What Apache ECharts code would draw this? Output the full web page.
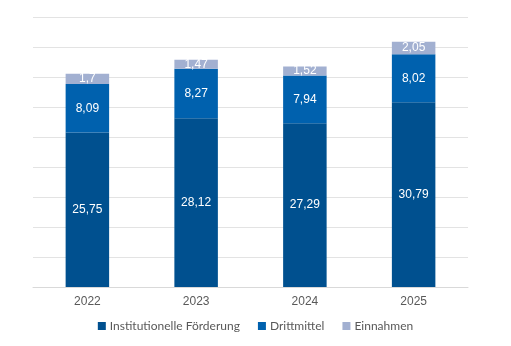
<!DOCTYPE html>
<html>
<head>
<meta charset="utf-8">
<script src="https://cdn.jsdelivr.net/npm/echarts@6/dist/echarts.min.js"></script>
<style>
  html, body { margin: 0; padding: 0; background: #fff; }
  #chart { width: 511px; height: 346px; }
</style>
</head>
<body>
<div id="chart"></div>
<script>
// Jahre und Finanzierungsanteile (Mio. €)
const years = ['2022', '2023', '2024', '2025'];
const institutionell = [25.75, 28.12, 27.29, 30.79];
const drittmittel = [8.09, 8.27, 7.94, 8.02];
const einnahmen = [1.7, 1.47, 1.52, 2.05];

const colors = ['#00508f', '#0061ae', '#a2b0d1'];
const fmt = p => String(p.value).replace('.', ',');

function seg(name, data, color) {
  return {
    name: name,
    type: 'bar',
    stack: 'gesamt',
    barWidth: '40%',
    data: data,
    itemStyle: { color: color },
    label: {
      show: true,
      position: 'inside',
      color: '#ffffff',
      fontFamily: 'Liberation Sans, Arial, sans-serif',
      fontSize: 12,
      formatter: fmt
    }
  };
}

const chart = echarts.init(document.getElementById('chart'), null, { renderer: 'canvas' });
chart.setOption({
  animation: false,
  color: colors,
  grid: { left: 33, right: 43, top: 17, bottom: 59 },
  xAxis: {
    type: 'category',
    data: years,
    axisLine: { lineStyle: { color: '#d9d9d9' } },
    axisTick: { show: false },
    axisLabel: { color: '#595959', fontSize: 12, fontFamily: 'Liberation Sans, Arial, sans-serif', margin: 9 }
  },
  yAxis: {
    type: 'value',
    min: 0,
    max: 45,
    interval: 5,
    axisLabel: { show: false },
    axisLine: { show: false },
    axisTick: { show: false },
    splitLine: { lineStyle: { color: '#e3e3e3', width: 1 } }
  },
  legend: {
    bottom: 9,
    left: 'center',
    itemWidth: 8,
    itemHeight: 8,
    itemGap: 18,
    icon: 'rect',
    textStyle: { color: '#595959', fontSize: 12, fontFamily: 'Lato, sans-serif', padding: [0, 0, 0, -1] },
    data: ['Institutionelle Förderung', 'Drittmittel', 'Einnahmen']
  },
  series: [
    seg('Institutionelle Förderung', institutionell, colors[0]),
    seg('Drittmittel', drittmittel, colors[1]),
    seg('Einnahmen', einnahmen, colors[2])
  ]
});
</script>
</body>
</html>
